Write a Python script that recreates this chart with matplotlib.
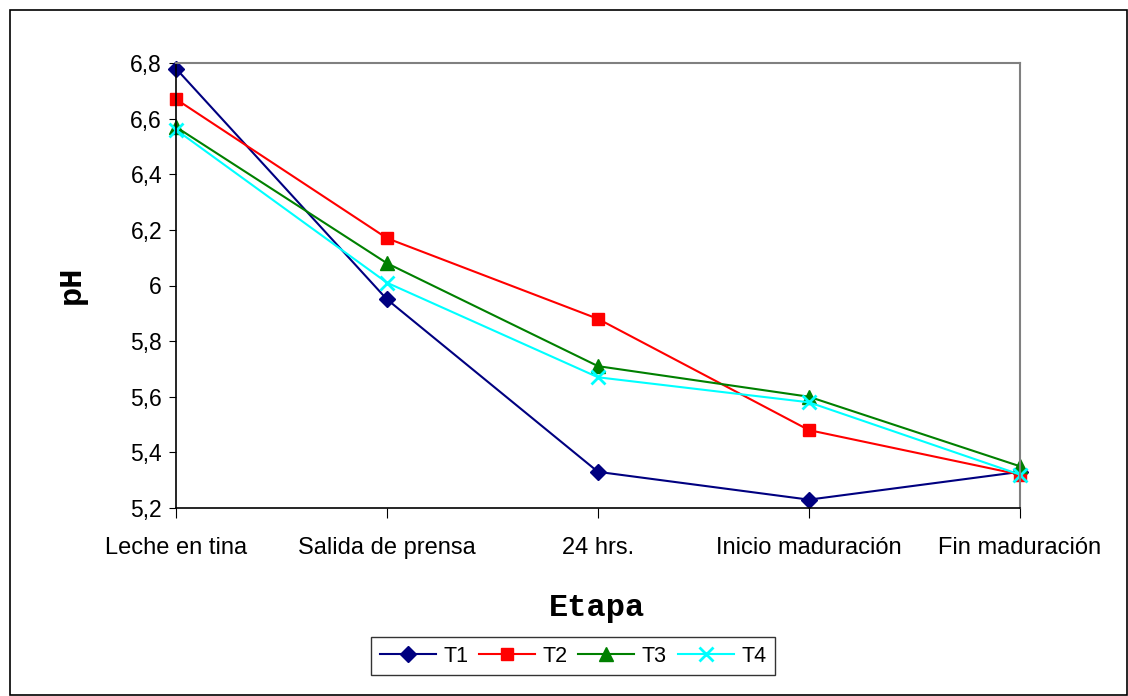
import matplotlib
matplotlib.use('Agg')
import matplotlib.pyplot as plt
from matplotlib.patches import Rectangle
from matplotlib.ticker import FuncFormatter

# Datos
etapas = ["Leche en tina", "Salida de prensa", "24 hrs.", "Inicio maduración", "Fin maduración"]
t1 = [6.78, 5.95, 5.33, 5.23, 5.33]
t2 = [6.67, 6.17, 5.88, 5.48, 5.32]
t3 = [6.57, 6.08, 5.71, 5.60, 5.35]
t4 = [6.56, 6.01, 5.67, 5.58, 5.32]

plt.rcParams['font.family'] = ['Liberation Sans', 'DejaVu Sans']

fig = plt.figure(figsize=(11.28, 6.96), dpi=100)
ax = fig.add_axes([176 / 1128, 1 - 508 / 696, (1020 - 176) / 1128, (508 - 63) / 696])

x = range(len(etapas))
ax.plot(x, t1, color="#000080", marker="D", markersize=8, lw=1.5, label="T1", clip_on=False)
ax.plot(x, t2, color="#FF0000", marker="s", markersize=8, lw=1.5, label="T2", clip_on=False)
ax.plot(x, t3, color="#008000", marker="^", markersize=10, lw=1.5, label="T3", clip_on=False)
ax.plot(x, t4, color="#00FFFF", marker="x", markersize=10, mew=2, lw=1.5, label="T4", clip_on=False)

ax.set_xlim(0, len(etapas) - 1)
ax.set_ylim(5.2, 6.8)
ax.set_xticks(list(x))
ax.set_xticklabels(etapas, fontsize=17)
ax.set_yticks([5.2, 5.4, 5.6, 5.8, 6.0, 6.2, 6.4, 6.6, 6.8])
ax.yaxis.set_major_formatter(FuncFormatter(lambda v, p: f"{v:.1f}".replace(".", ",").replace(",0", "")))
ax.tick_params(axis='y', labelsize=16.5, direction='out', length=5, pad=5)
ax.tick_params(axis='x', direction='out', length=7, pad=14)

for s in ["top", "right"]:
    ax.spines[s].set_color("#808080")
    ax.spines[s].set_linewidth(1.5)
for s in ["left", "bottom"]:
    ax.spines[s].set_color("black")
    ax.spines[s].set_linewidth(1.2)

fig.text(72 / 1128, 1 - 285 / 696, "pH", rotation=90, ha="center", va="center",
         fontsize=23, fontweight="bold", family="Liberation Mono")
fig.text(597 / 1128, 1 - 608 / 696, "Etapa", ha="center", va="center",
         fontsize=23, fontweight="bold", family="Liberation Mono")

leg = fig.legend(loc="center", bbox_to_anchor=(573 / 1128, 1 - 656 / 696), ncol=4,
                 fontsize=15.5, frameon=True, fancybox=False, edgecolor="black",
                 handlelength=2.6, columnspacing=0.5, handletextpad=0.35, borderpad=0.4,
                 borderaxespad=0)
leg.get_frame().set_linewidth(1.0)

# borde exterior del área del gráfico
fig.patches.append(Rectangle((10 / 1128, 1 / 696), 1 - 11 / 1128, 1 - 11 / 696,
                             transform=fig.transFigure, fill=False, edgecolor="black", lw=1.2))

fig.savefig("out.png", dpi=100)
